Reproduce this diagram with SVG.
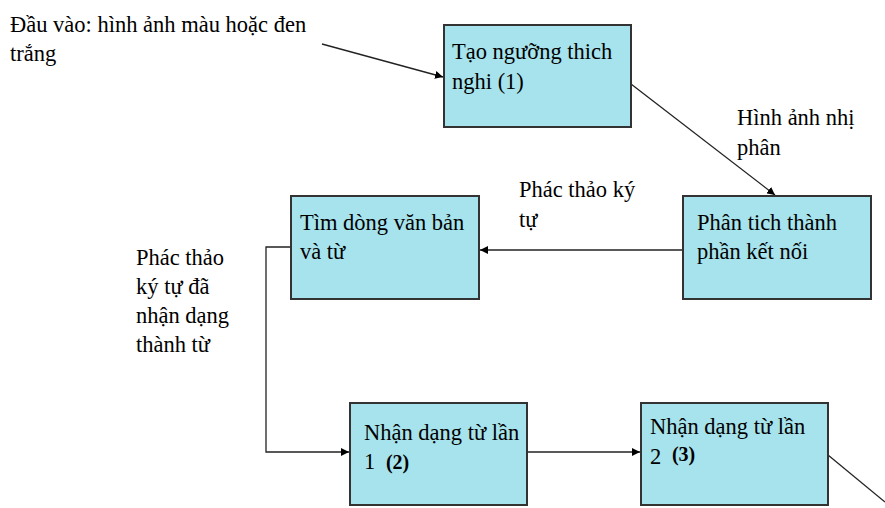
<svg xmlns="http://www.w3.org/2000/svg" width="885" height="508" viewBox="0 0 885 508">
<defs>
<style>
.box{fill:#a6e3ec;stroke:#333;stroke-width:2}
.t{font-family:"Liberation Serif","Times New Roman",serif;font-size:22.5px;fill:#000}
.b{font-weight:bold;font-size:20px}
.c{fill:none;stroke:#222;stroke-width:1.3}
</style>
<marker id="ah" viewBox="0 0 10 10" refX="10" refY="5" markerWidth="8" markerHeight="8" orient="auto" markerUnits="userSpaceOnUse">
<path d="M0,0 L10,5 L0,10 z" fill="#000"/>
</marker>
</defs>
<rect width="885" height="508" fill="#fff"/>
<g id="connectors">
<line class="c" x1="322" y1="44" x2="443" y2="77" marker-end="url(#ah)"/>
<line class="c" x1="631" y1="84" x2="775" y2="195" marker-end="url(#ah)"/>
<line class="c" x1="683" y1="250" x2="480" y2="250" marker-end="url(#ah)"/>
<polyline class="c" points="291,247 266,247 266,452 349,452" marker-end="url(#ah)"/>
<line class="c" x1="527" y1="452" x2="640" y2="452" marker-end="url(#ah)"/>
<line class="c" x1="828" y1="455" x2="885" y2="502"/>
</g>
<g id="input-label">
<text class="t" x="10" y="32">Đầu vào: hình ảnh màu hoặc đen</text>
<text class="t" x="10" y="61">trắng</text>
</g>
<g id="label-binary">
<text class="t" x="737" y="125">Hình ảnh nhị</text>
<text class="t" x="737" y="155">phân</text>
</g>
<g id="label-sketch">
<text class="t" x="519" y="197">Phác thảo ký</text>
<text class="t" x="519" y="227">tự</text>
</g>
<g id="label-words">
<text class="t" x="136" y="265">Phác thảo</text>
<text class="t" x="136" y="294">ký tự đã</text>
<text class="t" x="136" y="323">nhận dạng</text>
<text class="t" x="136" y="352">thành từ</text>
</g>
<g id="node-threshold">
<rect class="box" x="444" y="25" width="187" height="102"/>
<text class="t" x="452" y="59">Tạo ngưỡng thich</text>
<text class="t" x="452" y="89">nghi (1)</text>
</g>
<g id="node-components">
<rect class="box" x="683" y="196" width="188" height="103"/>
<text class="t" x="697" y="230">Phân tich thành</text>
<text class="t" x="697" y="259">phần kết nối</text>
</g>
<g id="node-lines">
<rect class="box" x="291" y="196" width="188" height="103"/>
<text class="t" x="300" y="230">Tìm dòng văn bản</text>
<text class="t" x="300" y="259">và từ</text>
</g>
<g id="node-recog1">
<rect class="box" x="350" y="403" width="177" height="102"/>
<text class="t" x="364" y="440">Nhận dạng từ lần</text>
<text class="t" x="364" y="469">1 <tspan class="b" dx="5">(2)</tspan></text>
</g>
<g id="node-recog2">
<rect class="box" x="641" y="403" width="187" height="102"/>
<text class="t" x="650" y="434">Nhận dạng từ lần</text>
<text class="t" x="650" y="464">2 <tspan class="b" dx="5" dy="-3">(3)</tspan></text>
</g>
</svg>
